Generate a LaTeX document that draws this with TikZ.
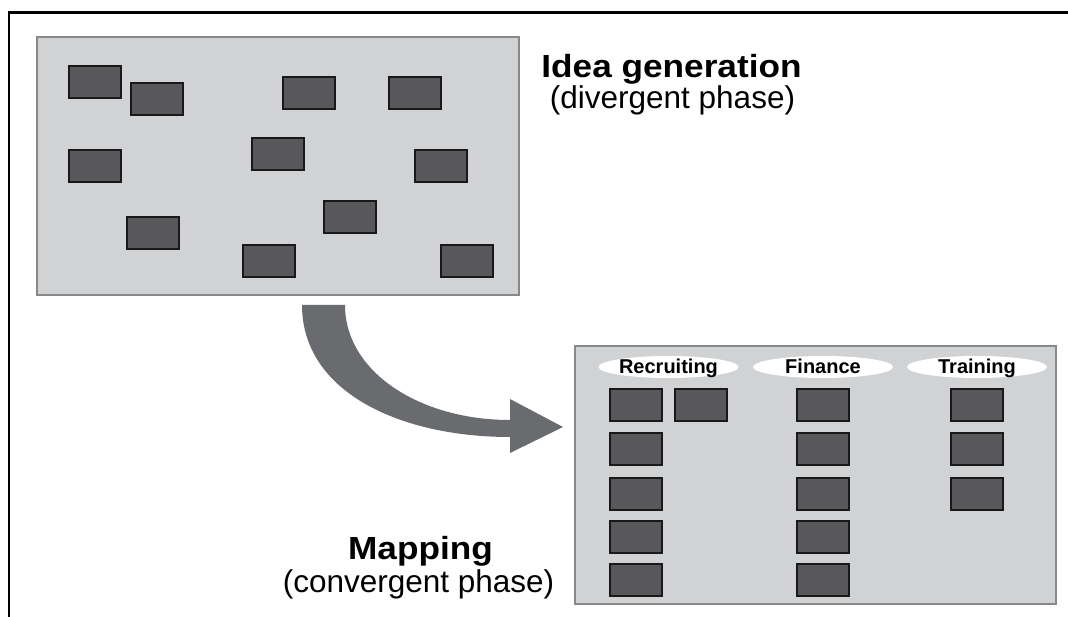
\documentclass[tikz,border=0pt]{standalone}
\usepackage{fontspec}
\setmainfont{Liberation Sans}
\usetikzlibrary{shapes.geometric}
\definecolor{panel}{HTML}{D1D2D4}
\definecolor{panelline}{HTML}{88898B}
\definecolor{card}{HTML}{58585A}
\definecolor{arrowgrey}{HTML}{6A6B6E}
\tikzset{
  card/.style={draw=black!90, line width=2pt, fill=card, minimum width=52pt, minimum height=32pt, inner sep=0pt},
  panelbox/.style={draw=panelline, line width=2.2pt, fill=panel},
  catlabel/.style={ellipse, fill=white, minimum width=140pt, minimum height=22pt, inner sep=0pt},
  cattext/.style={font=\fontsize{20}{21}\selectfont\bfseries, anchor=base, inner sep=0pt},
  bigtitle/.style={font=\fontsize{32}{34}\selectfont\bfseries, anchor=base, inner sep=0pt},
  subtitle/.style={font=\fontsize{31.5}{34}\selectfont, anchor=base, inner sep=0pt}
}
\begin{document}
\begin{tikzpicture}[x=1pt,y=-1pt]
\useasboundingbox (0,0) rectangle (1068,617);
% frame
\draw[line width=2.2pt] (9.3,617) -- (9.3,12.5) -- (1068,12.5);
% panels
\draw[panelbox] (37,37) rectangle (519,295);
\draw[panelbox] (575,346) rectangle (1056,604);
% idea cards
\node[card] (i1) at (95,82.5) {};
\node[card] (i2) at (157,99) {};
\node[card] (i3) at (308.5,93.5) {};
\node[card] (i4) at (414.5,93.5) {};
\node[card] (i5) at (95,166.5) {};
\node[card] (i6) at (278,154) {};
\node[card] (i7) at (440.5,166.5) {};
\node[card] (i8) at (152.5,233) {};
\node[card] (i9) at (350,217.5) {};
\node[card] (i10) at (268.5,261) {};
\node[card] (i11) at (467,261) {};
% category ellipses
\node[catlabel] (recE) at (668.5,367) {};
\node[catlabel] (finE) at (823,367) {};
\node[catlabel] (traE) at (977,367) {};
\node[cattext] (recT) at (668.5,373.5) {Recruiting};
\node[cattext] (finT) at (823,373.5) {Finance};
\node[cattext] (traT) at (977,373.5) {Training};
% mapped cards
\foreach \y [count=\k] in {405,449,493.5,537,580} {
  \node[card] (r\k) at (635.5,\y) {};
  \node[card] (f\k) at (823,\y) {};
}
\node[card] (r6) at (701,405) {};
\foreach \y [count=\k] in {405,449,493.5} {
  \node[card] (t\k) at (977,\y) {};
}
% curved arrow
\coordinate (aL) at (302,305);
\coordinate (aR) at (345,305);
\coordinate (hTop) at (510,399);
\coordinate (hTip) at (563,427);
\coordinate (hBot) at (510,453);
\fill[arrowgrey] (aL) -- (aR) .. controls (345,372) and (420,420) .. (510,420) -- (hTop) -- (hTip) -- (hBot) -- (510,437) .. controls (400,437) and (302,392) .. (aL) -- cycle;
% titles
\node[bigtitle] (t1) at (671.5,78) {\scalebox{1.1}[1]{Idea generation}};
\node[subtitle] (s1) at (672.5,109) {(divergent phase)};
\node[bigtitle] (t2) at (420.5,559) {\scalebox{1.1}[1]{Mapping}};
\node[subtitle] (s2) at (418.5,592) {(convergent phase)};
\end{tikzpicture}
\end{document}
